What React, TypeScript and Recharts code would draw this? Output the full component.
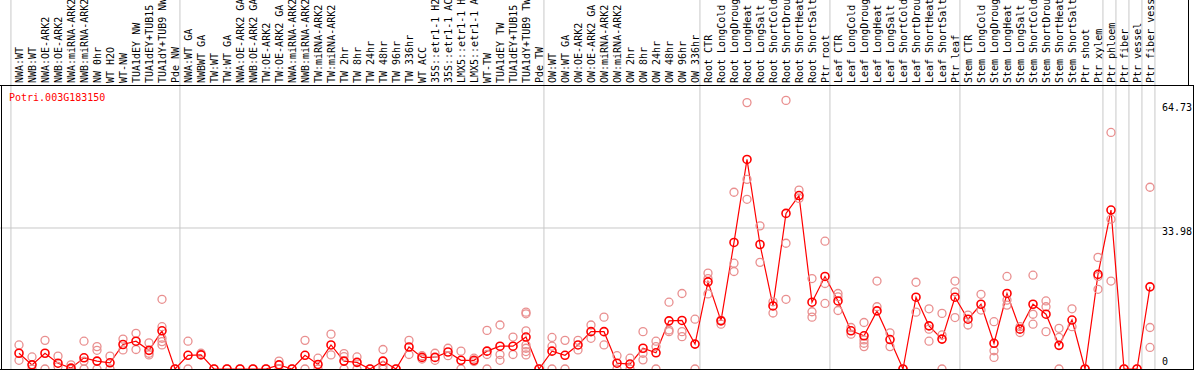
import React from 'react';
import { ComposedChart, Line, Scatter, XAxis, YAxis, ReferenceLine } from 'recharts';

const geneName = 'Potri.003G183150';

const categories = [
  'NWA:WT', 'NWB:WT', 'NWA:OE-ARK2', 'NWB:OE-ARK2', 'NWA:miRNA-ARK2', 'NWB:miRNA-ARK2',
  'NW 0hr', 'WT H2O', 'WT-NW', 'TUA1dEY NW', 'TUA1dEY+TUB15 NW', 'TUA1dY+TUB9 NW', 'Pde NW',
  'NWA:WT GA', 'NWBWT GA', 'TW:WT', 'TW:WT GA', 'NWA:OE-ARK2 GA', 'NWB:OE-ARK2 GA',
  'TW:OE-ARK2', 'TW:OE-ARK2 GA', 'NWA:miRNA-ARK2 GA', 'NWB:miRNA-ARK2 GA', 'TW:miRNA-ARK2',
  'TW:miRNA-ARK2 GA', 'TW 2hr', 'TW 8hr', 'TW 24hr', 'TW 48hr', 'TW 96hr', 'TW 336hr', 'WT ACC',
  '35S::etr1-1 H2O', '35S::etr1-1 ACC', 'LMX5::etr1-1 H2O', 'LMX5::etr1-1 ACC', 'WT-TW',
  'TUA1dEY TW', 'TUA1dEY+TUB15 TW', 'TUA1dY+TUB9 TW', 'Pde TW',
  'OW:WT', 'OW:WT GA', 'OW:OE-ARK2', 'OW:OE-ARK2 GA', 'OW:miRNA-ARK2', 'OW:miRNA-ARK2 GA',
  'OW 2hr', 'OW 8hr', 'OW 24hr', 'OW 48hr', 'OW 96hr', 'OW 336hr',
  'Root CTR', 'Root LongCold', 'Root LongDrought', 'Root LongHeat', 'Root LongSalt',
  'Root ShortCold', 'Root ShortDrought', 'Root ShortHeat', 'Root ShortSalt', 'Ptr root',
  'Leaf CTR', 'Leaf LongCold', 'Leaf LongDrought', 'Leaf LongHeat', 'Leaf LongSalt',
  'Leaf ShortCold', 'Leaf ShortDrought', 'Leaf ShortHeat', 'Leaf ShortSalt', 'Ptr leaf',
  'Stem CTR', 'Stem LongCold', 'Stem LongDrought', 'Stem LongHeat', 'Stem LongSalt',
  'Stem ShortCold', 'Stem ShortDrought', 'Stem ShortHeat', 'Stem ShortSalt', 'Ptr shoot', 'Ptr xylem',
  'Ptr phloem', 'Ptr fiber', 'Ptr vessel', 'Ptr fiber vessel',
];

// number of categories in each block separated by a grey line
const groupSizes = [13, 28, 12, 10, 10, 11, 1, 1, 1, 1];

const means = [
  3.8, 1.0, 3.8, 1.4, 0.2, 2.7, 1.9, 1.5, 5.9, 6.7, 4.5, 9.2, 0,
  3.3, 3.4, 0, 0, 0, 0, 0, 1.0, 0, 3.3, 1.1, 5.8, 1.9, 1.6, 0, 1.9, 0, 5.3, 2.8,
  2.8, 4.1, 2.1, 2.1, 4.3, 5.5, 5.5, 7.7, 0,
  4.3, 3.3, 5.8, 9.0, 9.0, 1.4, 1.2, 5.0, 3.9, 11.6, 11.7, 6.0,
  21.0, 11.6, 30.5, 50.5, 30.0, 15.2, 37.5, 41.8, 16.1, 22.3,
  16.4, 9.2, 8.0, 14.0, 7.1, 0, 17.3, 10.4, 7.2, 17.3,
  12.0, 15.6, 6.2, 18.2, 9.6, 15.6, 13.2, 5.7, 11.8, 0, 22.8,
  38.3, 0, 0, 19.8,
];

const replicates = [
  [5.8, 2.1], [2.9, 0], [6.9, 0], [3.1, 0.6], [1.0, 0], [6.7, 1.9, 0], [5.4, 4.5, 0],
  [3.1, 0], [7.2, 4.6], [8.6, 4.7], [6.3, 3.8, 3.4], [16.8, 10.2, 7.4, 6.6, 5.8], [0],
  [6.7, 0], [3.8], [0], [0], [0], [0], [0], [1.9, 0], [0], [6.9, 0], [2.6, 0], [8.4, 3.4],
  [3.7, 3.0, 0], [2.9, 0], [0], [4.7, 0.8, 0], [0], [6.9, 3.5], [3.2, 2.4],
  [3.8, 2.1], [5.0, 3.2], [4.3, 0], [2.6, 1.8], [9.3, 3.5, 0], [10.6, 3.5, 2.1], [7.7, 3.5],
  [13.7, 13.3, 9.2, 5.8, 5.0, 4.2, 3.4], [0],
  [7.6, 5.5, 0], [6.9, 0], [6.9, 4.6], [10.6, 7.4], [12.5, 5.8], [3.2, 0], [2.6, 0],
  [9.0, 3.8, 2.2], [6.7, 5.4, 0], [16.1, 9.4, 9.0], [18.2, 9.0, 7.8], [12.0, 0],
  [23.1, 21.8, 18.1], [11.8, 10.8], [42.6, 25.5, 23.5], [64.2, 45.7, 40.9], [34.5, 25.7],
  [16.2, 13.5], [64.73, 30.3, 16.8], [43.1, 41.1], [21.8, 13.8, 12.5], [30.8, 20.6, 15.8],
  [18.2, 17.4, 14.1], [10.0, 8.4], [11.2, 7.0, 6.2, 5.4], [21.2, 15.0], [8.7, 5.4], [0],
  [20.9, 13.7], [14.5, 9.6, 6.7], [13.4, 8.2, 0], [21.2, 18.6, 12.4],
  [13.0, 10.6], [18.0, 14.2], [11.4, 4.4, 2.8], [22.3, 16.6, 15.4], [10.2, 8.8],
  [22.6, 13.2, 10.8], [16.4, 15.0, 9.0], [9.8, 7.6, 0], [14.5, 10.2], [0], [26.9, 22.3, 19.2],
  [57.0, 36.1, 21.2], [0], [0], [43.8, 10.0, 5.2],
];

const yTicks = [0, 33.98, 64.73];
const yTickDy = [-4, 7.5, 11];
const yMax = 68.44;

const MEAN = '#ff0000';
const REP = '#e98f8f';
const GRID = '#c8c8c8';
const FONT = '"DejaVu Sans Mono", monospace';

const W = 1194;
const H = 370;
const xDomain: [number, number] = [-18 / 13, 1139 / 13];

const meanData = means.map((y, x) => ({ x, y }));
const repData = replicates.flatMap((vals, x) => vals.map((y) => ({ x, y })));

const groupStarts: number[] = [0];
groupSizes.forEach((n) => groupStarts.push(groupStarts[groupStarts.length - 1] + n));

const CategoryTick = (props: any) => {
  const { x, payload } = props;
  return (
    <text
      transform={`translate(${x + 3.5},83) rotate(-90)`}
      fontFamily={FONT}
      fontSize={10}
      fill="#000"
    >
      {categories[payload.value]}
    </text>
  );
};

const ValueTick = (props: any) => {
  const { y, payload } = props;
  const i = yTicks.indexOf(payload.value);
  return (
    <text x={1162} y={y + (yTickDy[i] ?? 0)} fontFamily={FONT} fontSize={10} fill="#000">
      {payload.value}
    </text>
  );
};

const RepDot = (props: any) => (
  <circle cx={props.cx} cy={props.cy} r={4} fill="none" stroke={REP} strokeWidth={1.3} />
);

export default function App() {
  const topVal = (yMax * 369) / 284;
  return (
    <div style={{ position: 'relative', width: W, height: H, background: '#fff' }}>
      <style>{'body{margin:0}'}</style>
      <ComposedChart width={W} height={H} margin={{ top: 0, right: 0, left: 1, bottom: 1 }}>
        <XAxis
          type="number"
          dataKey="x"
          orientation="top"
          height={85}
          domain={xDomain}
          allowDataOverflow
          ticks={categories.map((_, i) => i)}
          interval={0}
          axisLine={false}
          tickLine={false}
          tick={<CategoryTick />}
        />
        <YAxis
          type="number"
          orientation="right"
          width={36}
          domain={[0, yMax]}
          allowDataOverflow
          ticks={yTicks}
          interval={0}
          axisLine={false}
          tickLine={false}
          tick={<ValueTick />}
        />
        <ReferenceLine
          segment={[{ x: xDomain[0] - 1 / 13, y: 33.98 }, { x: 88, y: 33.98 }]}
          stroke={GRID}
          ifOverflow="visible"
        />
        {groupStarts.map((s) => (
          <ReferenceLine
            key={s}
            segment={[{ x: s - 0.62, y: 0 }, { x: s - 0.62, y: topVal }]}
            stroke={GRID}
            ifOverflow="visible"
          />
        ))}
        <Scatter data={repData} dataKey="y" shape={<RepDot />} isAnimationActive={false} />
        <Line
          data={meanData}
          dataKey="y"
          type="linear"
          stroke={MEAN}
          strokeWidth={1.2}
          isAnimationActive={false}
          dot={(p: any) => (
            <circle key={p.index} cx={p.cx} cy={p.cy} r={4} fill="none" stroke={MEAN} strokeWidth={1.6} />
          )}
          activeDot={false}
        />
      </ComposedChart>
      <svg style={{ position: 'absolute', left: 0, top: 85, pointerEvents: 'none' }} width={200} height={20}>
        <text x={9} y={15.5} fontFamily={FONT} fontSize={10} fill={MEAN}>
          {geneName}
        </text>
      </svg>
      <div style={{ position: 'absolute', left: 0, top: 85, width: W, height: 1, background: '#000' }} />
      <div style={{ position: 'absolute', left: 0, top: 369, width: W, height: 1, background: '#000' }} />
      <div style={{ position: 'absolute', left: 1, top: 85, width: 1, height: 285, background: '#000' }} />
      <div style={{ position: 'absolute', left: 1188, top: 0, width: 1, height: 85, background: '#000' }} />
      <div style={{ position: 'absolute', left: 1193, top: 85, width: 1, height: 285, background: '#000' }} />
    </div>
  );
}
